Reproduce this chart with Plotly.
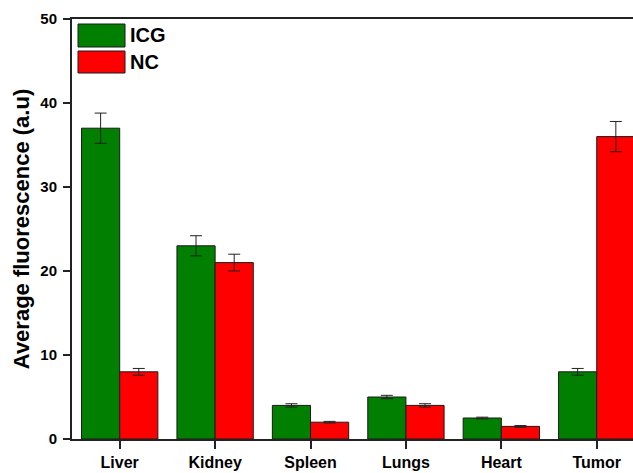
import plotly.graph_objects as go

organs = ["Liver", "Kidney", "Spleen", "Lungs", "Heart", "Tumor"]
icg_values = [37, 23, 4, 5, 2.5, 8]
icg_errors = [1.8, 1.2, 0.2, 0.2, 0.1, 0.4]
nc_values = [8, 21, 2, 4, 1.5, 36]
nc_errors = [0.4, 1.0, 0.1, 0.2, 0.1, 1.8]
y_ticks = [0, 10, 20, 30, 40, 50]

GREEN = "#007F00"
RED = "#FF0000"
FONT = "Liberation Sans, Arial, sans-serif"

W, H = 633, 473
ML, MT, MB = 72, 19, 34

fig = go.Figure()
fig.add_bar(
    x=organs, y=icg_values, name="ICG", marker=dict(color=GREEN, line=dict(color="#1a1a1a", width=1)),
    error_y=dict(type="data", array=icg_errors, color="#222222", thickness=1, width=6),
)
fig.add_bar(
    x=organs, y=nc_values, name="NC", marker=dict(color=RED, line=dict(color="#1a1a1a", width=1)),
    error_y=dict(type="data", array=nc_errors, color="#222222", thickness=1, width=6),
)

plot_w = W - ML
plot_h = H - MT - MB
def px(xp):
    return (xp - ML) / plot_w
def py(yp):
    return 1 - (yp - MT) / plot_h

for (label, color, y0, y1) in [("ICG", GREEN, 24, 47), ("NC", RED, 51, 73)]:
    fig.add_shape(type="rect", xref="paper", yref="paper",
                  x0=px(78), x1=px(125), y0=py(y1), y1=py(y0),
                  fillcolor=color, line=dict(color="#1a1a1a", width=1))
    fig.add_annotation(xref="paper", yref="paper", x=px(128), y=py((y0 + y1) / 2),
                       text=label, showarrow=False, xanchor="left", yanchor="middle",
                       font=dict(family=FONT, size=20, color="black", weight="bold"))

fig.update_layout(
    width=W, height=H,
    margin=dict(l=ML, r=0, t=MT, b=MB),
    paper_bgcolor="white", plot_bgcolor="white",
    barmode="group", bargap=0.2, bargroupgap=0,
    showlegend=False,
    font=dict(family=FONT, color="black"),
)
fig.update_xaxes(
    range=[-0.5, 5.38], showgrid=False, zeroline=False,
    showline=True, linecolor="#222222", linewidth=2, mirror=True,
    ticks="outside", ticklen=8, tickwidth=2, tickcolor="#222222",
    tickfont=dict(family=FONT, size=16, color="black", weight="bold"),
)
fig.update_yaxes(
    range=[0, 50], tickvals=y_ticks, showgrid=False, zeroline=False,
    showline=True, linecolor="#222222", linewidth=2,
    ticks="outside", ticklen=7, tickwidth=2, tickcolor="#222222",
    tickfont=dict(family=FONT, size=15, color="black", weight="bold"),
    ticklabelstandoff=3,
    title=dict(text="Average fluorescence (a.u)", standoff=5,
               font=dict(family=FONT, size=22, color="black", weight="bold")),
)

fig.write_html(
    "out.html",
    config={"displayModeBar": False},
    post_script="document.body.style.margin='0';document.body.style.overflow='hidden';",
)
